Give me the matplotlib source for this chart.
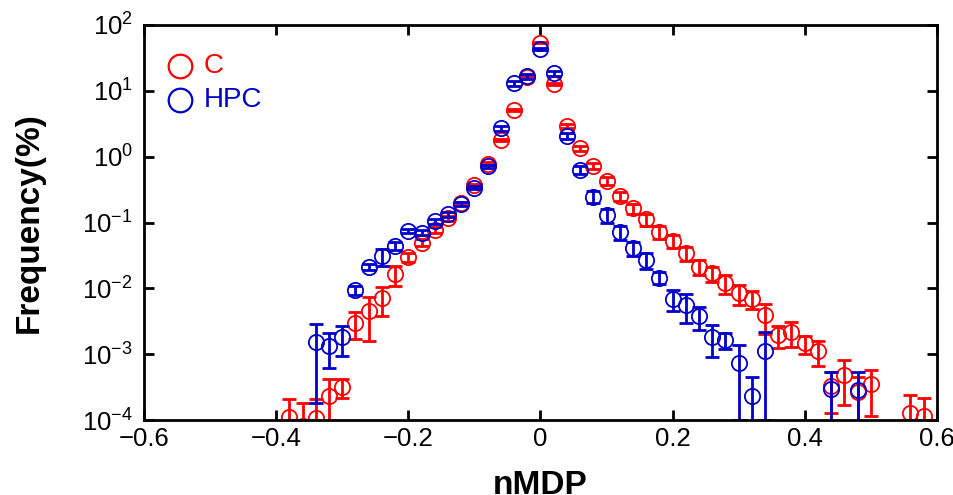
import numpy as np
import matplotlib
matplotlib.use('Agg')
import matplotlib.pyplot as plt
from matplotlib.ticker import FixedLocator, FuncFormatter, NullLocator

plt.rcParams['font.family'] = ['Liberation Sans', 'DejaVu Sans']
plt.rcParams['mathtext.default'] = 'regular'

# nMDP bins
x = np.round(np.arange(-0.38, 0.581, 0.02), 2)

# C (red) frequency (%) and error, nan where no point
c_val = [1.12e-4, 8e-5, 1.07e-4, 2.31e-4, 3.21e-4, 3.0e-3, 4.5e-3, 7.05e-3, 0.0163, 0.0296,
         0.0493, 0.0769, 0.1156, 0.195, 0.371, 0.78, 1.79, 5.1, 16.4, 53.9,
         12.6, 2.95, 1.34, 0.72, 0.427, 0.252, 0.164, 0.112, 0.0724, 0.0529,
         0.034, 0.0213, 0.0169, 0.0119, 0.0084, 0.0070, 0.0039, 1.95e-3, 2.2e-3, 1.46e-3,
         1.12e-3, 3.3e-4, 4.9e-4, 2.65e-4, 3.47e-4, np.nan, np.nan, 1.26e-4, 1.15e-4]
c_err = [0.94e-4, 1.0e-4, 1.0e-4, 1.84e-4, 1.05e-4, 1.32e-3, 2.9e-3, 3.3e-3, 5.5e-3, 4.5e-3,
         6e-3, 8e-3, 0.01, 0.012, 0.02, 0.04, 0.06, 0.2, 0.5, 1.0,
         0.5, 0.2, 0.12, 0.08, 0.06, 0.04, 0.03, 0.022, 0.016, 0.012,
         0.008, 0.0055, 0.0045, 0.0038, 0.0028, 0.0022, 1.9e-3, 0.73e-3, 0.9e-3, 0.45e-3,
         0.46e-3, 2.0e-4, 3.2e-4, 1.8e-4, 2.3e-4, np.nan, np.nan, 1.14e-4, 1.0e-4]

# HPC (blue)
h_val = [np.nan, np.nan, 1.51e-3, 1.34e-3, 1.8e-3, 9.4e-3, 0.0213, 0.031, 0.044, 0.0743,
         0.070, 0.104, 0.133, 0.191, 0.338, 0.72, 2.7, 13.0, 16.8, 43.2,
         18.5, 2.06, 0.63, 0.246, 0.13, 0.072, 0.0405, 0.0269, 0.0145, 7.0e-3,
         5.6e-3, 3.8e-3, 1.84e-3, 1.64e-3, 7.4e-4, 2.34e-4, 1.13e-3, np.nan, np.nan, np.nan,
         np.nan, 2.92e-4, np.nan, 2.9e-4, np.nan, np.nan, np.nan, np.nan, np.nan]
h_err = [np.nan, np.nan, 1.33e-3, 0.73e-3, 0.85e-3, 1.5e-3, 2.5e-3, 9e-3, 6e-3, 6e-3,
         6e-3, 8e-3, 0.012, 0.015, 0.02, 0.04, 0.25, 1.2, 1.5, 1.5,
         1.8, 0.2, 0.08, 0.05, 0.03, 0.018, 0.01, 0.007, 0.003, 2.4e-3,
         2.6e-3, 1.46e-3, 0.93e-3, 0.45e-3, 0.64e-3, 2.2e-4, 1.03e-3, np.nan, np.nan, np.nan,
         np.nan, 2.4e-4, np.nan, 2.4e-4, np.nan, np.nan, np.nan, np.nan, np.nan]

labels = ['C', 'HPC']
red = '#ff0000'
blue = '#0000cc'

fig = plt.figure(figsize=(9.54, 4.95), dpi=100)
ax = fig.add_axes([0.151, 0.1515, 0.831, 0.798])

for val, err, col in [(c_val, c_err, red), (h_val, h_err, blue)]:
    val = np.array(val)
    err = np.array(err)
    ax.errorbar(x, val, yerr=err, fmt='none', ecolor=col, elinewidth=2,
                capsize=5, capthick=2)
    ax.plot(x, val, 'o', mfc='none', mec=col, ms=11, mew=1.3)

ax.set_yscale('log')
ax.set_xlim(-0.6, 0.6)
ax.set_ylim(1e-4, 1e2)
ax.xaxis.set_major_locator(FixedLocator([-0.6, -0.4, -0.2, 0, 0.2, 0.4, 0.6]))
ax.xaxis.set_major_formatter(FuncFormatter(lambda v, p: ('%g' % v).replace('-', '\u2212')))
ax.yaxis.set_minor_locator(NullLocator())
ax.tick_params(direction='in', length=7, width=2, top=True, right=True,
               labelsize=18.5)
ax.tick_params(axis='x', pad=5)
ax.tick_params(axis='y', pad=8)
ax.tick_params(axis='x', which='minor', bottom=False, top=False)
for s in ax.spines.values():
    s.set_linewidth(2)

ax.set_xlabel('nMDP', fontsize=24, fontweight='bold', labelpad=14)
ax.set_ylabel('Frequency(%)', fontsize=24, fontweight='bold', labelpad=27)

# legend drawn by hand: open circle + coloured text
for i, (lab, col) in enumerate(zip(labels, [red, blue])):
    yy = 0.896 - i * 0.086
    ax.plot([0.045], [yy], 'o', mfc='none', mec=col, ms=17, mew=1.6,
            transform=ax.transAxes, clip_on=False)
    ax.text(0.0757, yy, lab, color=col, fontsize=20, va='center', ha='left',
            transform=ax.transAxes)

fig.savefig('out.png', dpi=100)
